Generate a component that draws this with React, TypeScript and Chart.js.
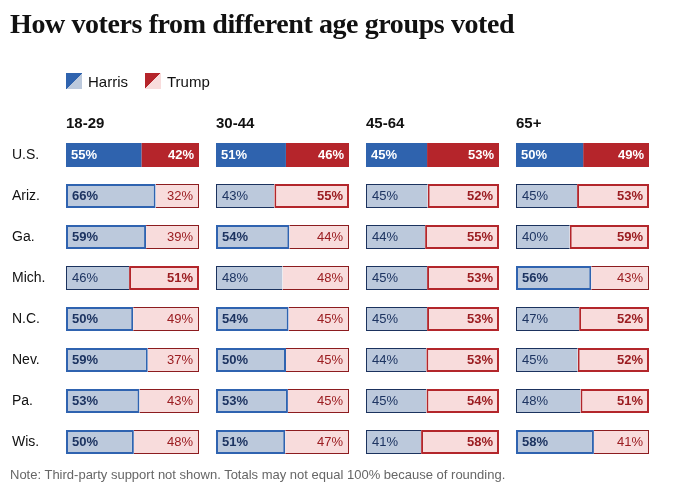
import React, { useEffect, useRef } from 'react';
import { Chart, registerables } from 'chart.js';

Chart.register(...registerables);

const titleText = 'How voters from different age groups voted';
const noteText = 'Note: Third-party support not shown. Totals may not equal 100% because of rounding.';
const candidates = ['Harris', 'Trump'];
const states = ['U.S.', 'Ariz.', 'Ga.', 'Mich.', 'N.C.', 'Nev.', 'Pa.', 'Wis.'];
const ageGroups = ['18-29', '30-44', '45-64', '65+'];

const harris18to29 = [55, 66, 59, 46, 50, 59, 53, 50];
const trump18to29 = [42, 32, 39, 51, 49, 37, 43, 48];
const harris30to44 = [51, 43, 54, 48, 54, 50, 53, 51];
const trump30to44 = [46, 55, 44, 48, 45, 45, 45, 47];
const harris45to64 = [45, 45, 44, 45, 45, 44, 45, 41];
const trump45to64 = [53, 52, 55, 53, 53, 53, 54, 58];
const harris65plus = [50, 45, 40, 56, 47, 45, 48, 58];
const trump65plus = [49, 53, 59, 43, 52, 52, 51, 41];

const harrisByAge = [harris18to29, harris30to44, harris45to64, harris65plus];
const trumpByAge = [trump18to29, trump30to44, trump45to64, trump65plus];

const SANS = '"Liberation Sans", Arial, sans-serif';
const SERIF = '"Liberation Serif", "Times New Roman", serif';
const C = {
  hSolid: '#2f63ae',
  tSolid: '#b5252b',
  hLight: '#bcc9dc',
  tLight: '#f8dcdc',
  hWinBorder: '#2f63b0',
  tWinBorder: '#b3262b',
  hLoseBorder: '#1b325e',
  tLoseBorder: '#8c1c1f',
  hText: '#1d3461',
  tText: '#9b1d21',
};
const BAR_FRACTION = 133 / 150;

const labelPlugin = {
  id: 'barLabels',
  afterDatasetsDraw(chart: any) {
    const ctx = chart.ctx;
    chart.data.datasets.forEach((ds: any, di: number) => {
      const meta = chart.getDatasetMeta(di);
      meta.data.forEach((el: any, i: number) => {
        const { x, y, base } = el.getProps(['x', 'y', 'base'], true);
        const v = ds.values[i];
        const o = ds.opp[i];
        const isUS = i === 0;
        const win = v > o;
        ctx.save();
        ctx.font = `${isUS || win ? 'bold ' : ''}13px ${SANS}`;
        ctx.fillStyle = isUS ? '#ffffff' : ds.party === 'h' ? C.hText : C.tText;
        ctx.textBaseline = 'middle';
        const pad = isUS ? 5 : 6;
        if (ds.party === 'h') {
          ctx.textAlign = 'left';
          ctx.fillText(v + '%', Math.min(x, base) + pad, y + 0.5);
        } else {
          ctx.textAlign = 'right';
          ctx.fillText(v + '%', Math.max(x, base) - pad, y + 0.5);
        }
        ctx.restore();
      });
    });
  },
};

function buildDatasets() {
  const datasets: any[] = [];
  ageGroups.forEach((g, c) => {
    const h = harrisByAge[c];
    const t = trumpByAge[c];
    const tot = h.map((v, i) => v + t[i]);
    const common = {
      xAxisID: 'x' + c,
      yAxisID: 'y',
      stack: 'votes',
      grouped: false,
      barThickness: 24,
      borderSkipped: false,
      inflateAmount: 0,
    };
    datasets.push({
      ...common,
      label: candidates[0] + ' ' + g,
      party: 'h',
      values: h,
      opp: t,
      data: h.map((v, i) => (v / tot[i]) * 100),
      backgroundColor: (ctx: any) => (ctx.dataIndex === 0 ? C.hSolid : C.hLight),
      borderColor: (ctx: any) => (h[ctx.dataIndex] > t[ctx.dataIndex] ? C.hWinBorder : C.hLoseBorder),
      borderWidth: (ctx: any) => {
        const i = ctx.dataIndex;
        if (i === 0) return 0;
        if (h[i] > t[i]) return 2;
        return { top: 1, bottom: 1, left: 1, right: 0 };
      },
    });
    datasets.push({
      ...common,
      label: candidates[1] + ' ' + g,
      party: 't',
      values: t,
      opp: h,
      data: t.map((v, i) => (v / tot[i]) * 100),
      backgroundColor: (ctx: any) => (ctx.dataIndex === 0 ? C.tSolid : C.tLight),
      borderColor: (ctx: any) => (t[ctx.dataIndex] > h[ctx.dataIndex] ? C.tWinBorder : C.tLoseBorder),
      borderWidth: (ctx: any) => {
        const i = ctx.dataIndex;
        if (i === 0) return 0;
        if (t[i] > h[i]) return 2;
        return { top: 1, bottom: 1, left: 0, right: 1 };
      },
    });
  });
  return datasets;
}

function buildScales() {
  const scales: any = {
    y: {
      type: 'category',
      position: 'left',
      grid: { display: false, drawTicks: false },
      border: { display: false },
      ticks: { crossAlign: 'far', padding: 0, color: '#111', font: { family: SANS, size: 14 } },
      afterFit: (s: any) => {
        s.width = 54;
      },
    },
  };
  // top boxes are laid out in reverse insertion order, so add the last column first
  for (let c = ageGroups.length - 1; c >= 0; c--) {
    scales['x' + c] = {
      type: 'linear',
      position: 'top',
      stack: 'cols',
      stackWeight: 1,
      stacked: true,
      bounds: 'data',
      min: 0,
      max: 100 / BAR_FRACTION,
      grid: { display: false, drawTicks: false },
      border: { display: false },
      ticks: { display: false },
      title: {
        display: true,
        text: ageGroups[c],
        align: 'start',
        color: '#111',
        font: { family: SANS, size: 15, weight: 'bold' },
        padding: { top: 6, bottom: 2 },
      },
    };
  }
  return scales;
}

export default function App() {
  const canvasRef = useRef<HTMLCanvasElement | null>(null);

  useEffect(() => {
    if (!canvasRef.current) return;
    const chart = new Chart(canvasRef.current, {
      type: 'bar',
      data: { labels: states, datasets: buildDatasets() },
      options: {
        indexAxis: 'y',
        responsive: false,
        animation: false,
        devicePixelRatio: 1,
        layout: { padding: { top: 108.5, bottom: 31.5, left: 12, right: 7 } },
        plugins: { legend: { display: false }, tooltip: { enabled: false } },
        scales: buildScales(),
      } as any,
      plugins: [labelPlugin],
    });
    return () => chart.destroy();
  }, []);

  const swatch = (dark: string, light: string) => ({
    width: 16,
    height: 16,
    background: `linear-gradient(to bottom right, ${dark} 50%, ${light} 50%)`,
    flex: '0 0 auto',
  });

  return (
    <div style={{ position: 'fixed', left: 0, top: 0, width: 673, height: 494, background: '#fff', overflow: 'hidden' }}>
      <canvas ref={canvasRef} width={673} height={494} style={{ position: 'absolute', left: 0, top: 0, width: 673, height: 494 }} />
      <div
        style={{
          position: 'absolute',
          left: 10,
          top: 10,
          fontFamily: SERIF,
          fontWeight: 'bold',
          fontSize: 28,
          lineHeight: '28px',
          color: '#111',
          whiteSpace: 'nowrap',
          letterSpacing: '-0.4px',
        }}
      >
        {titleText}
      </div>
      <div
        style={{
          position: 'absolute',
          left: 66,
          top: 73,
          display: 'flex',
          alignItems: 'center',
          height: 16,
          fontFamily: SANS,
          fontSize: 15,
          color: '#111',
          whiteSpace: 'nowrap',
        }}
      >
        <div style={swatch(C.hSolid, C.hLight)} />
        <span style={{ marginLeft: 6, marginRight: 17 }}>{candidates[0]}</span>
        <div style={swatch(C.tSolid, C.tLight)} />
        <span style={{ marginLeft: 6 }}>{candidates[1]}</span>
      </div>
      <div
        style={{
          position: 'absolute',
          left: 10,
          top: 467,
          fontFamily: SANS,
          fontSize: 13,
          lineHeight: '16px',
          color: '#666',
          whiteSpace: 'nowrap',
        }}
      >
        {noteText}
      </div>
    </div>
  );
}
